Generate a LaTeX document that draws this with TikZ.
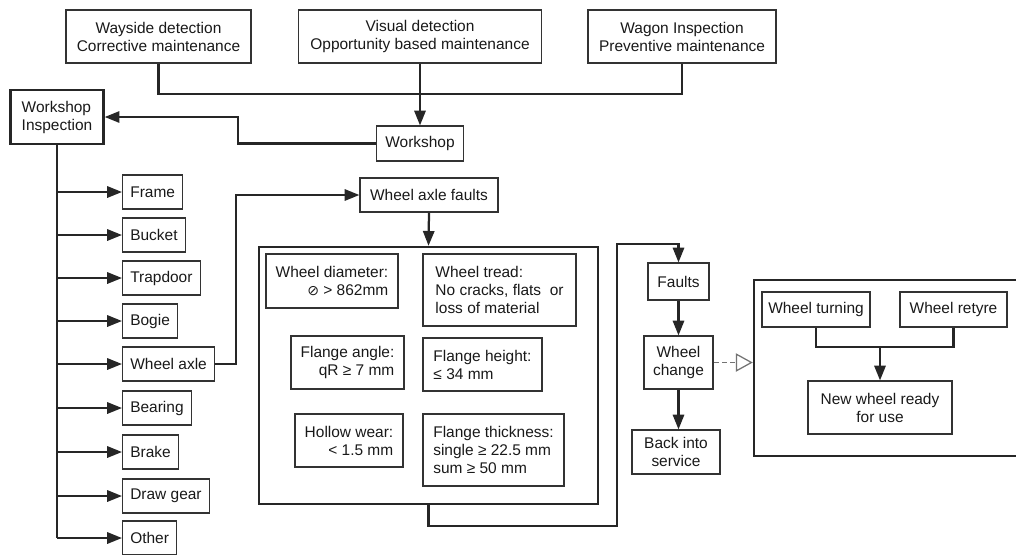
\documentclass[tikz,border=0pt]{standalone}
\usepackage{fontspec}
\setmainfont{Liberation Sans}
\newfontfamily\dejavu{DejaVu Sans}
\usetikzlibrary{arrows.meta}
\newcommand{\boxline}{0.8pt}

\begin{document}
\begin{tikzpicture}[x=0.025cm,y=-0.025cm,
	box/.style={draw=black!80,line width=\boxline,inner sep=0pt,text=black!90,align=center,
		font=\fontsize{11}{12.8}\selectfont},
	bigbox/.style={draw=black!85,line width=1.7pt},
	part/.style={box,anchor=west,inner xsep=5.5pt,minimum height=0.85cm},
	link/.style={line width=1.6pt,draw=black!85},
	conn/.style={link,-{Triangle[length=10.5pt,width=8pt]}}]
	\useasboundingbox (0,0) rectangle (1016,554);
	% detection sources
	\node[box,minimum width=4.625cm,minimum height=1.325cm] (wayside) at (158.5,36.5) {Wayside detection\\Corrective maintenance};
	\node[box,minimum width=6.075cm,minimum height=1.325cm] (visual) at (420,36.5) {Visual detection\\Opportunity based maintenance};
	\node[box,minimum width=4.7cm,minimum height=1.325cm] (wagon) at (682,36.5) {Wagon Inspection\\Preventive maintenance};
	\node[box,minimum width=2.175cm,minimum height=0.875cm] (workshop) at (420,143.5) {Workshop};
	\node[box,bigbox,minimum width=2.325cm,minimum height=1.35cm,align=left] (wi) at (57,117) {Workshop\\Inspection};
	\coordinate (bus) at (420,94);
	\draw[link] (wayside.south) |- (bus) -| (wagon.south);
	\draw[conn] (visual.south) -- (workshop.north);
	\draw[conn] (workshop.west) -- ++(-138,0) |- (wi.east);
	% wagon parts
	\node[part] (frame) at (122,192) {Frame};
	\node[part] (bucket) at (122,235) {Bucket};
	\node[part] (trapdoor) at (122,278) {Trapdoor};
	\node[part] (bogie) at (122,321) {Bogie};
	\node[part] (wheelaxle) at (122,364) {Wheel axle};
	\node[part] (bearing) at (122,408) {Bearing};
	\node[part] (brake) at (122,452) {Brake};
	\node[part] (drawgear) at (122,496) {Draw gear};
	\node[part] (other) at (122,538) {Other};
	\draw[link] (wi.south) -- (other.west -| wi.south);
	\draw[conn] (frame.west -| wi.south) -- (frame.west);
	\draw[conn] (bucket.west -| wi.south) -- (bucket.west);
	\draw[conn] (trapdoor.west -| wi.south) -- (trapdoor.west);
	\draw[conn] (bogie.west -| wi.south) -- (bogie.west);
	\draw[conn] (wheelaxle.west -| wi.south) -- (wheelaxle.west);
	\draw[conn] (bearing.west -| wi.south) -- (bearing.west);
	\draw[conn] (brake.west -| wi.south) -- (brake.west);
	\draw[conn] (drawgear.west -| wi.south) -- (drawgear.west);
	\draw[conn] (other.west -| wi.south) -- (other.west);
	% wheel axle criteria
	\node[box,minimum width=3.45cm,minimum height=0.85cm] (axlefaults) at (429,195) {Wheel axle faults};
	\draw[conn] (wheelaxle.east) -- ++(21,0) |- (axlefaults.west);
	\node[box,bigbox,minimum width=8.475cm,minimum height=6.425cm] (crit) at (428.5,375.5) {};
	\draw[conn] (axlefaults.south) -- (crit.north);
	\node[box,align=right,minimum width=3.3cm,minimum height=1.35cm] (diam) at (332,281) {Wheel diameter:\\{\dejavu\fontsize{10}{12}\selectfont ⊘} > 862mm};
	\node[box,align=left,minimum width=3.825cm,minimum height=1.8cm] (tread) at (499.5,290) {Wheel tread:\\No cracks, flats\ \ or\\loss of material};
	\node[box,align=right,minimum width=2.825cm,minimum height=1.325cm] (fangle) at (347.5,362.5) {Flange angle:\\qR ≥ 7 mm};
	\node[box,align=left,minimum width=2.975cm,minimum height=1.325cm] (fheight) at (482.5,364.5) {Flange height:\\≤ 34 mm};
	\node[box,align=right,minimum width=2.7cm,minimum height=1.325cm] (hollow) at (349,440.5) {Hollow wear:\\< 1.5 mm};
	\node[box,align=left,minimum width=3.525cm,minimum height=1.8cm] (fthick) at (493.5,450) {Flange thickness:\\single ≥ 22.5 mm\\sum ≥ 50 mm};
	% repair
	\node[box,minimum width=1.525cm,minimum height=0.925cm] (faults) at (678.5,281.5) {Faults};
	\node[box,minimum width=1.725cm,minimum height=1.325cm] (change) at (678.5,362.5) {Wheel\\change};
	\node[box,minimum width=2.2cm,minimum height=1.1cm] (service) at (676,452) {Back into\\service};
	\coordinate (loop) at (617,244);
	\draw[conn] (crit.south) -- ++(0,21) -| (loop) -| (faults.north);
	\draw[conn] (faults.south) -- (change.north);
	\draw[conn] (change.south) -- (change.south |- service.north);
	\node[box,bigbox,minimum width=6.7cm,minimum height=4.4cm] (repair) at (888,368) {};
	\node[box,minimum width=2.7cm,minimum height=0.875cm] (turning) at (816,309.5) {Wheel turning};
	\node[box,minimum width=2.675cm,minimum height=0.875cm] (retyre) at (953.5,309.5) {Wheel retyre};
	\node[box,minimum width=3.6cm,minimum height=1.325cm] (newwheel) at (880,407.5) {New wheel ready\\for use};
	\coordinate (join) at (880,347);
	\draw[link] (turning.south) |- (join) -| (retyre.south);
	\draw[conn] (join) -- (newwheel.north);
	\draw[black!55,line width=0.9pt,dash pattern=on 3.5pt off 2.5pt,-{Triangle[open,length=12pt,width=13pt]}] (change.east) -- (change.east -| repair.west);
\end{tikzpicture}
\end{document}
